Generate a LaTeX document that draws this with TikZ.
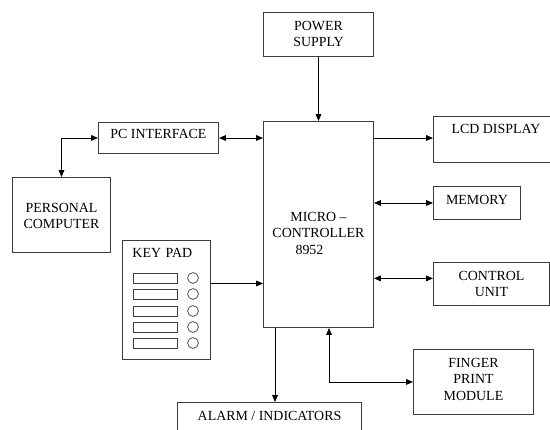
\documentclass[tikz,border=0pt]{standalone}
\usepackage{fontspec}
\setmainfont{Liberation Serif}
\usetikzlibrary{arrows.meta,positioning,calc}
\definecolor{ink}{RGB}{60,60,60}
\newcommand\blkfont{\fontsize{9.9}{11.7}\selectfont}
\tikzset{
  blk/.style={draw=ink,line width=.7pt,inner sep=0pt,anchor=north west,
    align=center,font=\blkfont,text height=4.4mm},
  arr/.style={-{Triangle[length=1.7mm,width=1.4mm]},line width=.6pt},
  dbl/.style={{Triangle[length=1.7mm,width=1.4mm]}-{Triangle[length=1.7mm,width=1.4mm]},
    line width=.6pt},
  keyslot/.style={draw=ink,line width=.5pt},
}

\begin{document}
\begin{tikzpicture}[x=0.25mm,y=-0.25mm]
  \useasboundingbox[fill=white] (0,0) rectangle (550,430);
  % blocks (text height runs to the last baseline)
  \node[blk,minimum width=27.5mm,text height=8.53mm,text depth=2.47mm] (power) at (263,12) {POWER\\SUPPLY};
  \node[blk,minimum width=27.5mm,text height=33.2mm,text depth=18.3mm] (micro) at (263,121)
    {MICRO –\\CONTROLLER\\\mbox{8952\hspace{4.5mm}}};
  \node[blk,minimum width=30mm,text height=3.9mm,text depth=3.85mm] (pcif) at (98,122) {PC INTERFACE};
  \node[blk,minimum width=24.5mm,text height=12.78mm,text depth=5.97mm] (pc) at (12,177) {PERSONAL\\COMPUTER};
  \node[blk,minimum width=31.25mm,text height=4.15mm,text depth=7.35mm] (lcd) at (433,116) {LCD DISPLAY};
  \node[blk,minimum width=21.75mm,text depth=3.85mm] (mem) at (433,186) {MEMORY};
  \node[blk,minimum width=29mm,text height=8.53mm,text depth=2.22mm] (ctrl) at (433,262) {CONTROL\\UNIT};
  \node[blk,minimum width=30mm,text height=12.65mm,text depth=3.6mm] (finger) at (413,349) {FINGER\\PRINT\\MODULE};
  \node[blk,minimum width=46mm,text depth=7.5mm] (alarm) at (177,402) {ALARM / INDICATORS};
  \node[blk,inner xsep=2.5mm,text width=17mm,align=left,text height=4.15mm,text depth=25.6mm]
    (keypad) at (122,240) {KEY PAD};
  % keys of the key pad
  \foreach \ky in {278,294,311,327,343} {
    \draw[keyslot] (133,\ky-5) rectangle (177,\ky+5);
    \draw[keyslot] (193,\ky) circle[radius=1.35mm];
  }
  % links
  \draw[arr] (power) -- (micro);
  \draw[dbl] (pcif.east) -- (pcif.east -| micro.west);
  \draw[dbl] (pc.north) |- (pcif.west);
  \draw[arr] (micro.east |- pcif.east) -- (lcd.west |- pcif.east);
  \draw[dbl] (micro.east |- mem.west) -- (mem.west);
  \coordinate (ctrlin) at ([yshift=1.4mm]ctrl.west);
  \draw[dbl] (micro.east |- ctrlin) -- (ctrlin);
  \coordinate (keyout) at ([yshift=4.125mm]keypad.east);
  \draw[arr] (keyout) -- (keyout -| micro.west);
  \coordinate (alarmin) at ([xshift=3mm]micro.south west);
  \draw[arr] (alarmin) -- (alarmin |- alarm.north);
  \coordinate (fpin) at ([xshift=16.5mm]micro.south west);
  \draw[dbl] (fpin) |- (finger.west);
\end{tikzpicture}
\end{document}
